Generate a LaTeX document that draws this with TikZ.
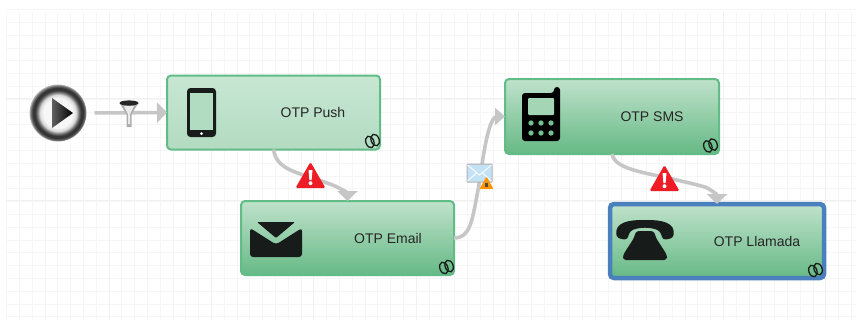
\documentclass[tikz,border=0pt]{standalone}
\usepackage{fontspec}
\setmainfont{Liberation Sans}
\usetikzlibrary{arrows.meta}
\definecolor{gridminor}{HTML}{F5F6F5}
\definecolor{gridmajor}{HTML}{F0F1F0}
\definecolor{boxedge}{HTML}{62BC88}
\definecolor{boxtop}{HTML}{BFE2CB}
\definecolor{boxbottom}{HTML}{66B985}
\definecolor{palebottom}{HTML}{B2DBC1}
\definecolor{paletop}{HTML}{C8E7D3}
\definecolor{linkgray}{HTML}{C6C6C6}
\definecolor{icondark}{HTML}{171C1A}
\definecolor{warnred}{HTML}{EE1C25}
\definecolor{selblue}{HTML}{4A80BE}
\definecolor{mailblue}{HTML}{C3E2F6}
\pgfdeclareradialshading{ringshade}{\pgfpoint{0bp}{0bp}}{%
  color(0bp)=(black!3); color(13bp)=(black!3); color(16bp)=(black!15); color(18bp)=(black!50);
  color(20bp)=(black!78); color(22bp)=(black!80); color(24bp)=(black!55); color(25bp)=(black!28); color(50bp)=(black!28)}
\tikzset{
  x=1pt,y=-1pt,
  flowbox/.style={rectangle,rounded corners=4pt,draw=boxedge,line width=2pt,inner sep=0pt,outer sep=0pt,
    minimum width=213pt,minimum height=74pt,top color=boxtop,bottom color=boxbottom},
  palebox/.style={flowbox,top color=paletop,bottom color=palebottom},
  selbox/.style={flowbox,draw=selblue,line width=4.5pt},
  lbl/.style={font=\fontsize{14}{16}\selectfont,text=black!85,inner sep=0pt},
  flowlink/.style={draw=linkgray,line width=3.6pt,-{Triangle[length=10pt,width=20pt]}},
  linkicon/.pic={
    \draw[icondark,line width=1.3pt,rotate=20] (-2.8,0) ellipse (4pt and 6pt);
    \draw[icondark,line width=1.3pt,rotate=20] (2.8,0) ellipse (4pt and 6pt);
  },
  warnicon/.pic={
    \fill[warnred,rounded corners=1.5pt] (0,-13) -- (15,13) -- (-15,13) -- cycle;
    \fill[white] (-2,-5) -- (2,-5) -- (1.1,5) -- (-1.1,5) -- cycle;
    \fill[white] (0,8.2) circle (2pt);
  },
  funnelicon/.pic={
    \fill[black!32] (-9.5,-10) -- (9.5,-10) -- (2.5,1) -- (2.5,14) -- (-2.5,14) -- (-2.5,1) -- cycle;
    \fill[black!8] (-5,-7) -- (5,-7) -- (1,1) -- (1,11) -- (-1,11) -- (-1,1) -- cycle;
    \fill[black!85] (0,-10) ellipse (9.5pt and 2.6pt);
  },
  mailicon/.pic={
    \fill[black!30,rounded corners=1pt] (-13,-9.5) rectangle (13,9.5);
    \fill[mailblue,rounded corners=.8pt] (-12,-8.5) rectangle (12,8.5);
    \draw[white,line width=.9pt] (-12,-8) -- (0,2) -- (12,-8) (-12,8) -- (-3,0) (12,8) -- (3,0);
    \fill[orange!85!yellow,rounded corners=1pt] (7,3.5) -- (14,16) -- (0,16) -- cycle;
    \fill[black!70] (5.3,9.5) rectangle (8.7,14);
  }
}
\begin{document}
\begin{tikzpicture}
\useasboundingbox (0,0) rectangle (860,322);
\fill[white] (0,0) rectangle (860,322);
% grid
\foreach \i in {0,...,66} {\draw[gridminor,line width=.8pt] ({6.5+12.8*\i},12) -- ({6.5+12.8*\i},320);}
\foreach \j in {0,...,24} {\draw[gridminor,line width=.8pt] (6,{9.6+12.8*\j}) -- (856,{9.6+12.8*\j});}
\foreach \i in {1,...,8} {\draw[gridmajor,line width=.8pt] ({6.5+102.4*\i},12) -- ({6.5+102.4*\i},320);}
\foreach \j in {1,...,2} {\draw[gridmajor,line width=.8pt] (6,{-4.5+102.4*\j}) -- (856,{-4.5+102.4*\j});}

% activities
\node[palebox] (push) at (273.5,112.5) {};
\node[flowbox] (email) at (347.5,238) {};
\node[flowbox,minimum width=214pt,minimum height=75pt] (sms) at (612,116.5) {};
\node[selbox,minimum width=214pt] (llamada) at (717,241) {};
\node[lbl] (pushlabel) at (313,112) {OTP Push};
\node[lbl] (emaillabel) at (388,238) {OTP Email};
\node[lbl] (smslabel) at (652,117) {OTP SMS};
\node[lbl] (llamadalabel) at (757,241) {OTP Llamada};

% start
\node[circle,minimum size=57pt,inner sep=0pt,outer sep=0pt,shade,shading=ringshade] (start) at (58,113) {};
\shade[left color=black!62,right color=black] (52,98) -- (73,113) -- (52,128) -- cycle;

% connectors
\draw[flowlink,shorten <=8pt] (start.east) -- (push.west);
\draw[flowlink] (push.south) .. controls (277,172) and (300,172) .. (335,186) .. controls (343,190) and (347.5,193) .. (email.north);
\draw[flowlink] (sms.south) .. controls (616,172) and (650,172) .. (705,187) .. controls (712,190) and (717,195) .. (llamada.north);
\draw[draw=linkgray,line width=3.6pt,-{Triangle[length=10pt,width=17pt]}] (email.east) .. controls (470,238) and (472,222) .. (478,190) .. controls (483,160) and (486,130) .. (494,118) .. controls (496,116.5) and (498,116.5) .. (sms.west);

% connector decorations
\pic at (129,113) {funnelicon};
\pic at (310.5,175) {warnicon};
\pic at (664.5,178) {warnicon};
\pic at (479.5,173) {mailicon};

% link badges
\pic at (372.5,141) {linkicon};
\pic at (446.5,267) {linkicon};
\pic at (710.5,145.5) {linkicon};
\pic at (815.5,270) {linkicon};

% smartphone
\fill[icondark,rounded corners=3.5pt] (187,88) rectangle (216,137);
\fill[boxtop!85!boxbottom] (190,93) rectangle (213,130);
\fill[white] (201.5,133.5) circle (1.5pt);

% envelope
\fill[icondark,rounded corners=1pt] (257,222) -- (295,222) -- (276,238) -- cycle;
\fill[icondark,rounded corners=3pt] (250,228) -- (276,244.5) -- (302,228) -- (302,257) -- (250,257) -- cycle;

% mobile phone
\fill[black,rounded corners=3pt] (522,93) -- (554,93) -- (554,87) -- (560,87) -- (560,141) -- (522,141) -- cycle;
\fill[boxtop!70!boxbottom,rounded corners=1pt] (528,98) rectangle (554,115);
\foreach \cx in {531,541,551} \foreach \cy in {123,133} {\fill[boxbottom!85!boxtop] (\cx,\cy) circle (2.7pt);}

% telephone
\fill[icondark,rounded corners=3pt] (617,238) .. controls (614,222) and (630,220) .. (645,220)
  .. controls (660,220) and (676,222) .. (673,238) -- (663,240) -- (660,231)
  .. controls (650,227) and (640,227) .. (630,231) -- (627,240) -- cycle;
\fill[icondark,rounded corners=3pt] (636,231) -- (654,231) -- (656,238) -- (667,255) -- (667,260) -- (623,260) -- (623,255) -- (634,238) -- cycle;
\end{tikzpicture}
\end{document}
